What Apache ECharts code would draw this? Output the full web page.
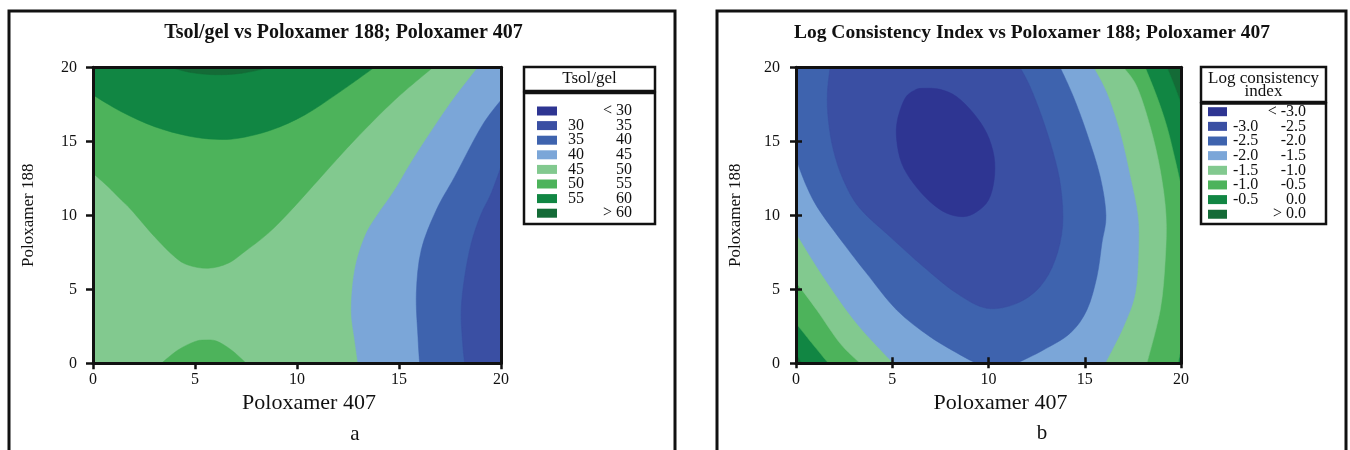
<!DOCTYPE html>
<html>
<head>
<meta charset="utf-8">
<title>Poloxamer 188 / 407 contour plots</title>
<script src="https://cdn.jsdelivr.net/npm/echarts@6/dist/echarts.min.js"></script>
<style>
  html, body { margin: 0; padding: 0; background: #fff; }
  #chart { width: 1350px; height: 450px; }
</style>
</head>
<body>
<div id="chart"></div>
<script>
// shared design space, both axes 0..20
const axisTicks = [0, 5, 10, 15, 20];

// band colours from lowest to highest band
const bandColors = ['#2e3592', '#3a4fa3', '#3e63ae', '#7ba6d8', '#82c98f', '#4db35b', '#118643', '#146b37'];

// ---- a: Tsol/gel ----
const tsolLevels = [30, 35, 40, 45, 50, 55, 60];
// contour lines as [Poloxamer 407, Poloxamer 188]
const tsol60 = [[3.8, 20], [4.8, 19.65], [6.0, 19.5], [7.3, 19.6], [8.7, 20]];
const tsol55 = [[0, 18.13], [1.39, 17.0], [3.02, 15.99], [4.66, 15.36], [5.96, 15.14], [7.11, 15.2], [8.74, 15.76], [10.38, 16.78], [12.0, 18.24], [13.8, 20]];
const tsol50Top = [[0, 12.84], [0.74, 11.93], [1.39, 11.03], [1.88, 10.36], [3.02, 8.55], [4.0, 7.2], [4.66, 6.64], [5.64, 6.42], [6.62, 6.76], [7.43, 7.54], [8.58, 8.78], [9.72, 10.36], [11.19, 12.61], [12.83, 15.09], [14.79, 17.79], [16.67, 20]];
const tsol50Bottom = [[3.35, 0], [4.17, 0.9], [4.98, 1.46], [5.47, 1.57], [6.05, 1.5], [6.78, 0.9], [7.51, 0]];
const tsol45 = [[18.87, 20], [17.4, 17.34], [15.77, 13.96], [14.79, 11.71], [13.93, 10.0], [13.32, 8.55], [12.83, 6.3], [12.66, 3.6], [12.83, 1.57], [12.99, 0]];
const tsol40 = [[20, 17.79], [19.04, 15.99], [17.73, 12.61], [16.83, 10.36], [16.09, 7.66], [15.85, 4.73], [15.93, 1.8], [16.01, 0]];
const tsol35 = [[20, 13.28], [19.52, 11.49], [19.0, 10.0], [18.54, 8.1], [18.22, 5.85], [18.05, 3.6], [18.12, 1.35], [18.22, 0]];

// ---- b: log consistency index ----
const lciLevels = [-3.0, -2.5, -2.0, -1.5, -1.0, -0.5, 0.0];
const lci0Low = [[0, 0.7], [0.3, 0]];
const lci0High = [[20, 17.57], [19.61, 18.92], [19.27, 20]];
const lciM05Low = [[0, 2.7], [0.8, 1.4], [1.68, 0]];
const lciM05Corner = [[19.85, 0], [20, 1.0]];
const lciM05High = [[20, 12.0], [19.7, 13.74], [19.27, 15.99], [18.75, 18.01], [18.14, 20]];
const lciM10Low = [[0, 5.5], [1.08, 3.6], [2.29, 1.35], [3.33, 0]];
const lciM10High = [[18.23, 0], [18.92, 3.6], [19.18, 6.98], [19.22, 10.0], [18.92, 13.06], [18.4, 15.99], [17.71, 18.69], [17.01, 20]];
const lciM15Low = [[0, 8.8], [1.42, 5.85], [3.15, 2.7], [5.06, 0]];
const lciM15High = [[16.06, 0], [17.01, 2.47], [17.62, 4.73], [17.79, 7.66], [17.75, 10.0], [17.36, 12.61], [16.84, 15.54], [16.15, 18.24], [15.45, 20]];
const lciM20Low = [[0, 13.8], [0.56, 11.93], [1.2, 10.36], [2.46, 8.11], [3.67, 6.08], [5.23, 3.6], [6.96, 1.8], [8.7, 0.45], [9.39, 0]];
const lciM20High = [[11.47, 0], [12.85, 0.9], [14.24, 2.03], [15.11, 3.6], [15.63, 5.85], [15.89, 8.11], [16.1, 10.0], [15.8, 12.61], [15.11, 15.54], [14.41, 18.01], [13.72, 20]];
const lciM25 = [[1.77, 20], [1.63, 18.24], [1.68, 16.44], [1.94, 14.41], [2.46, 12.39], [3.3, 10.5], [4.89, 8.55], [6.62, 6.53], [8.35, 4.73], [9.91, 3.72], [11.47, 4.05], [12.68, 5.18], [13.46, 6.98], [13.85, 9.3], [13.75, 11.93], [13.37, 14.19], [12.77, 16.66], [12.16, 18.69], [11.64, 20]];
const lciM30 = [[6.62, 18.58], [7.48, 18.51], [8.35, 18.01], [9.22, 16.89], [9.91, 15.54], [10.29, 13.96], [10.29, 12.39], [10.0, 11.03], [9.39, 10.24], [8.7, 9.91], [7.83, 10.14], [6.96, 10.92], [6.1, 12.16], [5.49, 13.51], [5.23, 15.09], [5.27, 16.44], [5.67, 17.91], [6.19, 18.47]];

// region pieces: contour (smooth), edge (straight along plot border), loop (closed contour)
const line = pts => ({pts, smooth: true});
const edge = pts => ({pts, smooth: false});
const loop = pts => ({pts, smooth: true, closed: true});
const fullBox = [[0, 0], [20, 0], [20, 20], [0, 20]];

// painted in order, later ones on top
const regionsA = [
  {band: 4, parts: [edge(fullBox)]},
  {band: 5, parts: [line(tsol50Top), edge([[0, 20]])]},
  {band: 6, parts: [line(tsol55), edge([[0, 20]])]},
  {band: 7, parts: [line(tsol60)]},
  {band: 5, parts: [line(tsol50Bottom)]},
  {band: 3, parts: [line(tsol45), edge([[20, 0], [20, 20]])]},
  {band: 2, parts: [line(tsol40), edge([[20, 0]])]},
  {band: 1, parts: [line(tsol35), edge([[20, 0]])]}
];
const regionsB = [
  {band: 7, parts: [edge(fullBox)]},
  {band: 6, parts: [line(lci0Low), edge([[20, 0]]), line(lci0High), edge([[0, 20]])]},
  {band: 5, parts: [line(lciM05Low), line(lciM05Corner), line(lciM05High), edge([[0, 20]])]},
  {band: 4, parts: [line(lciM10Low), line(lciM10High), edge([[0, 20]])]},
  {band: 3, parts: [line(lciM15Low), line(lciM15High), edge([[0, 20]])]},
  {band: 2, parts: [line(lciM20Low), line(lciM20High), edge([[0, 20]])]},
  {band: 1, parts: [line(lciM25)]},
  {band: 0, parts: [loop(lciM30)]}
];

// catmull-rom through pixel points, as cubic bezier commands
function smoothCmds(pts, closed) {
  const n = pts.length;
  const at = i => closed ? pts[(i + n) % n] : pts[Math.max(0, Math.min(n - 1, i))];
  let d = '';
  const segs = closed ? n : n - 1;
  for (let i = 0; i < segs; i++) {
    const p0 = at(i - 1), p1 = at(i), p2 = at(i + 1), p3 = at(i + 2);
    const c1x = p1[0] + (p2[0] - p0[0]) / 6, c1y = p1[1] + (p2[1] - p0[1]) / 6;
    const c2x = p2[0] - (p3[0] - p1[0]) / 6, c2y = p2[1] - (p3[1] - p1[1]) / 6;
    d += ` C${c1x},${c1y} ${c2x},${c2y} ${p2[0]},${p2[1]}`;
  }
  return d;
}

function regionPath(parts, api) {
  let d = '';
  parts.forEach(part => {
    const px = part.pts.map(p => api.coord(p));
    d += (d ? ' L' : 'M') + px[0][0] + ',' + px[0][1];
    if (part.smooth) {
      d += smoothCmds(px, part.closed);
    } else {
      px.slice(1).forEach(p => { d += ` L${p[0]},${p[1]}`; });
    }
  });
  return d + ' Z';
}

const serif = '"Liberation Serif", "DejaVu Serif", serif';
const ink = '#111';

function contourSeries(regions, axisIndex) {
  return {
    type: 'custom',
    coordinateSystem: 'cartesian2d',
    xAxisIndex: axisIndex,
    yAxisIndex: axisIndex,
    clip: true,
    silent: true,
    z: 1,
    data: regions.map((r, i) => [i, 0]),
    renderItem: (params, api) => {
      const r = regions[params.dataIndex];
      return {
        type: 'path',
        shape: {pathData: regionPath(r.parts, api)},
        style: {fill: bandColors[r.band], stroke: bandColors[r.band], lineWidth: 0.5}
      };
    }
  };
}

function mainX(gridIndex, tickLen) {
  return {
    gridIndex, type: 'value', position: 'bottom', min: 0, max: 20, interval: 5, z: 10,
    name: 'Poloxamer 407', nameLocation: 'middle', nameGap: 26,
    nameTextStyle: {fontFamily: serif, fontSize: 22, color: ink, padding: [0, 0, 0, 24]},
    axisLine: {show: true, onZero: false, lineStyle: {color: ink, width: 3}},
    axisTick: {show: true, length: tickLen, lineStyle: {color: ink, width: 2.5}},
    axisLabel: {fontFamily: serif, fontSize: 16, color: ink, margin: 8},
    splitLine: {show: false}
  };
}
function mainY(gridIndex, tickLen, gap) {
  return {
    gridIndex, type: 'value', position: 'left', min: 0, max: 20, interval: 5, z: 10,
    name: 'Poloxamer 188', nameLocation: 'middle', nameGap: gap,
    nameTextStyle: {fontFamily: serif, fontSize: 17, color: ink},
    axisLine: {show: true, onZero: false, lineStyle: {color: ink, width: 3}},
    axisTick: {show: true, length: tickLen, lineStyle: {color: ink, width: 2.5}},
    axisLabel: {fontFamily: serif, fontSize: 16, color: ink, margin: 16},
    splitLine: {show: false}
  };
}
function frameAxis(gridIndex, position) {
  return {
    gridIndex, type: 'value', position, min: 0, max: 20, interval: 5, z: 10,
    axisLine: {show: true, onZero: false, lineStyle: {color: ink, width: 3}},
    axisTick: {show: false}, axisLabel: {show: false}, splitLine: {show: false}
  };
}
function innerTicks(gridIndex, position) {
  return {
    gridIndex, type: 'value', position, min: 0, max: 20, interval: 5, z: 10,
    axisLine: {show: false},
    axisTick: {show: true, inside: true, length: 6, lineStyle: {color: ink, width: 2.5}},
    axisLabel: {show: false}, splitLine: {show: false}
  };
}

function txt(text, x, y, size, opts) {
  opts = opts || {};
  const align = opts.align || 'center';
  return {
    type: 'text', x, y, z: 100, silent: true,
    style: {
      text, fill: ink,
      font: (opts.bold ? 'bold ' : '') + size + 'px ' + serif,
      align, textAlign: align, verticalAlign: 'middle', textVerticalAlign: 'middle'
    }
  };
}
function box(x, y, w, h, lw) {
  return {type: 'rect', z: 100, silent: true, shape: {x, y, width: w, height: h},
    style: {fill: 'none', stroke: ink, lineWidth: lw}};
}

function legendRows(levels, fmt) {
  const rows = [['', '< ' + fmt(levels[0])]];
  for (let i = 1; i < levels.length; i++) rows.push([fmt(levels[i - 1]), fmt(levels[i])]);
  rows.push(['', '> ' + fmt(levels[levels.length - 1])]);
  return rows;
}

function legend(spec) {
  const els = [box(spec.x, spec.y, spec.w, spec.headH, 2.5), box(spec.x, spec.bodyY, spec.w, spec.bodyH, 2.5)];
  spec.header.forEach((t, i) => els.push(txt(t, spec.x + spec.w / 2, spec.headY + i * 13.5, spec.headSize)));
  spec.rows.forEach((r, i) => {
    const y = spec.rowY + i * spec.rowDy;
    els.push({type: 'rect', z: 100, silent: true,
      shape: {x: spec.swX, y: y - 4.5, width: spec.swW, height: 9},
      style: {fill: bandColors[i]}});
    if (r[0] !== '') els.push(txt(r[0], spec.leftX, y, 16, {align: 'left'}));
    els.push(txt(r[1], spec.rightX, y, 16, {align: 'right'}));
  });
  return els;
}

const chart = echarts.init(document.getElementById('chart'), null, {renderer: 'canvas'});

const graphics = [
  box(9, 11, 666, 470, 3),
  box(717, 11, 629, 470, 3),
  txt('Tsol/gel vs Poloxamer 188; Poloxamer 407', 343.5, 33, 20, {bold: true}),
  txt('Log Consistency Index vs Poloxamer 188; Poloxamer 407', 1032, 33, 19.5, {bold: true}),
  txt('a', 355, 434, 21),
  txt('b', 1042, 433, 21)
].concat(
  legend({x: 524, y: 67, w: 131, headH: 24, bodyY: 93, bodyH: 131, header: ['Tsol/gel'], headY: 79, headSize: 17,
    rows: legendRows(tsolLevels, v => String(v)), rowY: 111, rowDy: 14.6, swX: 537, swW: 20, leftX: 568, rightX: 632}),
  legend({x: 1201, y: 67, w: 125, headH: 35, bodyY: 103.5, bodyH: 120.5, header: ['Log consistency', 'index'], headY: 78.5, headSize: 17,
    rows: legendRows(lciLevels, v => v.toFixed(1)), rowY: 111.7, rowDy: 14.65, swX: 1208, swW: 19, leftX: 1233, rightX: 1306})
);

chart.setOption({
  backgroundColor: '#fff',
  animation: false,
  grid: [
    {left: 93, top: 67.3, width: 408, height: 296, show: false},
    {left: 796, top: 67.3, width: 385, height: 296, show: false}
  ],
  xAxis: [
    mainX(0, 6), frameAxis(0, 'top'),
    mainX(1, 5), frameAxis(1, 'top'), innerTicks(1, 'bottom')
  ],
  yAxis: [
    mainY(0, 7, 56), frameAxis(0, 'right'),
    mainY(1, 6, 52), frameAxis(1, 'right'), innerTicks(1, 'left')
  ],
  graphic: graphics,
  series: [
    contourSeries(regionsA, 0),
    contourSeries(regionsB, 2)
  ]
});
</script>
</body>
</html>
